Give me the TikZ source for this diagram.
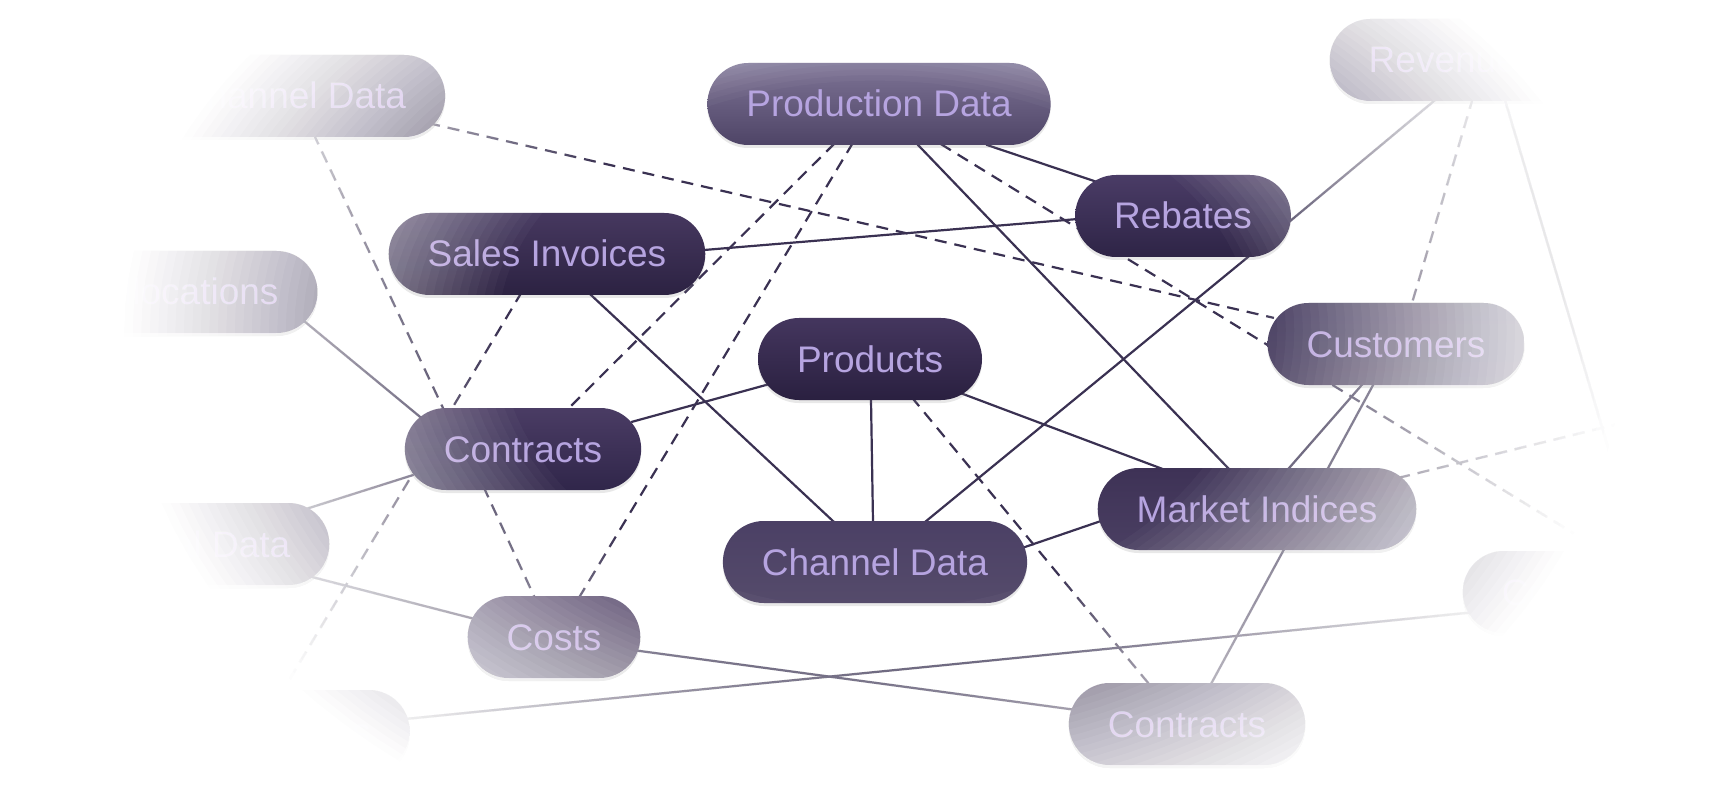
\documentclass[tikz,border=0pt]{standalone}
\usepackage{fontspec}
\setmainfont{Liberation Sans}
\usetikzlibrary{shadows}
\definecolor{edge}{HTML}{3A3152}
\definecolor{txt}{HTML}{B6A4E0}
\definecolor{base}{HTML}{4A4062}
\definecolor{siA}{HTML}{46385F}
\definecolor{siB}{HTML}{2C2242}
\definecolor{clA}{HTML}{4A3C64}
\definecolor{clB}{HTML}{30264A}
\definecolor{pdA}{HTML}{7E7496}
\definecolor{pdB}{HTML}{4E4466}
\definecolor{prA}{HTML}{44365E}
\definecolor{prB}{HTML}{2A2040}
\definecolor{cdA}{HTML}{4B4065}
\definecolor{cdB}{HTML}{554B6B}
\definecolor{rbA}{HTML}{4A3C66}
\definecolor{rbB}{HTML}{2E2446}
\definecolor{cuA}{HTML}{3E3258}
\definecolor{miA}{HTML}{3E3256}
\definecolor{miB}{HTML}{4A3F62}
\pgfdeclarelayer{bg}
\pgfdeclarelayer{fg}
\pgfsetlayers{bg,main,fg}
\tikzset{
  pill/.style 2 args={rectangle, rounded corners=41pt, minimum height=82pt,
    inner xsep=39pt, inner ysep=0pt, text height=26pt, text depth=0pt,
    text=txt, font=\fontsize{37}{40}\selectfont,
    top color=#1, bottom color=#2,
    drop shadow={opacity=0.18, shadow xshift=0pt, shadow yshift=-3pt}},
  link/.style={draw=edge, line width=2.2pt, shorten <=-4pt, shorten >=-4pt},
  dlink/.style={link, dash pattern=on 12pt off 8pt}
}
\begin{document}
\begin{tikzpicture}[x=1pt,y=-1pt]
\useasboundingbox (0,0) rectangle (1716,786);

% nodes
\node[pill={base}{base}] (TLCD) at (293,96) {Channel Data};
\node[pill={base}{base}] (ALLOC) at (189,292) {Allocations};
\node[pill={siA}{siB}] (SI) at (547,254) {Sales Invoices};
\node[pill={base}{base}] (HIST) at (170,544) {Historical Data};
\node[pill={clA}{clB}] (CL) at (523,449) {Contracts};
\node[pill={clA}{base}] (COSTS) at (554,637) {Costs};
\node[pill={base}{base}] (PROMO) at (277,731) {Promotions};
\node[pill={pdA}{pdB}] (PD) at (879,104) {Production Data};
\node[pill={prA}{prB}] (PROD) at (870,359) {Products};
\node[pill={cdA}{cdB}] (CDM) at (875,562) {Channel Data};
\node[pill={rbA}{rbB}] (REB) at (1183,216) {Rebates};
\node[pill={cuA}{base}] (CUST) at (1396,344) {Customers};
\node[pill={miA}{miB}] (MI) at (1257,509) {Market Indices};
\node[pill={base}{base}] (CBR) at (1187,724) {Contracts};
\node[pill={base}{base}] (REV) at (1487,60) {Revenue Data};
\node[pill={base}{base}] (CR) at (1581,592) {Contracts};
\coordinate (offR) at (1740,394);

\begin{pgfonlayer}{bg}
\fill[white] (0,0) rectangle (1716,786);
% solid
\draw[link] ([shift={(111,42)}]PD.center) -- ([shift={(-89,-35)}]REB.center);
\draw[link] ([shift={(40,42)}]PD.center) -- ([shift={(-29,-41)}]MI.center);
\draw[link] ([shift={(157,-4)}]SI.center) -- ([shift={(-105,3)}]REB.center);
\draw[link] ([shift={(44,41)}]SI.center) -- ([shift={(-41,-40)}]CDM.center);
\draw[link] ([shift={(65,41)}]REB.center) -- ([shift={(50,-40)}]CDM.center);
\draw[link] ([shift={(-104,26)}]PROD.center) -- ([shift={(112,-28)}]CL.center);
\draw[link] ([shift={(1,41)}]PROD.center) -- ([shift={(-2,-40)}]CDM.center);
\draw[link] ([shift={(93,35)}]PROD.center) -- ([shift={(-97,-41)}]MI.center);
\draw[link] ([shift={(150,-15)}]CDM.center) -- ([shift={(-159,13)}]MI.center);
\draw[link] ([shift={(33,-42)}]MI.center) -- ([shift={(-36,43)}]CUST.center);
\draw[link] ([shift={(24,-40)}]CBR.center) -- ([shift={(-24,43)}]CUST.center);
\draw[link] ([shift={(115,29)}]ALLOC.center) -- ([shift={(-104,-33)}]CL.center);
\draw[link] ([shift={(136,-35)}]HIST.center) -- ([shift={(-113,27)}]CL.center);
\draw[link] ([shift={(142,33)}]HIST.center) -- ([shift={(-83,-19)}]COSTS.center);
\draw[link] ([shift={(86,14)}]COSTS.center) -- ([shift={(-118,-15)}]CBR.center);
\draw[link] ([shift={(128,-12)}]PROMO.center) -- ([shift={(-115,21)}]CR.center);
\draw[link] ([shift={(106,6)}]REB.center) -- ([shift={(-53,41)}]REV.center);
\draw[link] ([shift={(18,40)}]REV.center) -- ([shift={(58,-40)}]CR.center);
% dashed
\draw[dlink] ([shift={(139,28)}]TLCD.center) -- ([shift={(-126,-27)}]CUST.center);
\draw[dlink] ([shift={(22,41)}]TLCD.center) -- ([shift={(-80,-41)}]CL.center);
\draw[dlink] ([shift={(-27,41)}]SI.center) -- ([shift={(5,-39)}]PROMO.center);
\draw[dlink] ([shift={(-47,42)}]PD.center) -- ([shift={(46,-41)}]CL.center);
\draw[dlink] ([shift={(-28,42)}]PD.center) -- ([shift={(26,-41)}]COSTS.center);
\draw[dlink] ([shift={(-38,41)}]CL.center) -- ([shift={(-20,-41)}]COSTS.center);
\draw[dlink] ([shift={(44,41)}]PROD.center) -- ([shift={(-38,-40)}]CBR.center);
\draw[dlink] ([shift={(65,42)}]PD.center) -- ([shift={(23,-40)}]CR.center);
\draw[dlink] ([shift={(-15,41)}]REV.center) -- ([shift={(16,-41)}]CUST.center);
\draw[dlink] ([shift={(145,-32)}]MI.center) -- (offR);
\end{pgfonlayer}

\begin{pgfonlayer}{fg}
\foreach \k in {1,...,45}{
  \pgfmathsetmacro\sc{0.53+0.55*\k/45}
  \pgfmathsetmacro\op{1-((45.001-\k)/(46-\k))^1.4}
  \fill[white, fill opacity=\op, even odd rule]
    (-10,-10) rectangle (1726,796)
    plot[domain=0:360, samples=121, variable=\t]
      ({875+\sc*695*cos(\t)}, {330+\sc*sin(\t)*((sin(\t)<0) ? 460 : 516)}) -- cycle;
}
\end{pgfonlayer}
\end{tikzpicture}
\end{document}
